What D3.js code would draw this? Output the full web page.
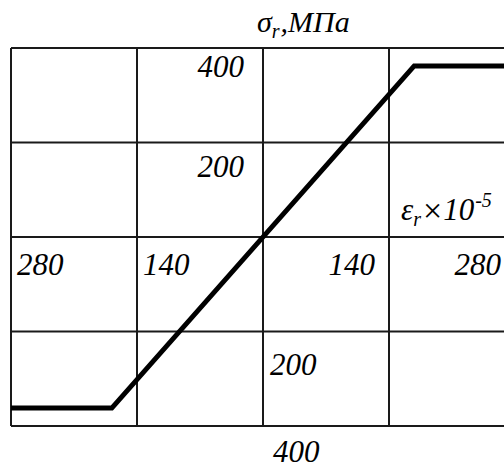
<!DOCTYPE html>
<html><head><meta charset="utf-8">
<script src="https://cdn.jsdelivr.net/npm/d3@7"></script>
<style>
html,body{margin:0;padding:0;background:#fff;}
svg{display:block;}
</style></head>
<body>
<script>
// Data: elastic–perfectly-plastic stress–strain diagram
const strain = [-280, -168, 168, 280];       // ε_r ×10^-5
const stress = [-362, -362, 362, 362];       // σ_r, MPa
const xGrid = [-280, -140, 0, 140, 280];
const yGrid = [-400, -200, 0, 200, 400];
const xTickValues = [-280, -140, 140, 280];
const xTickLabels = ["280", "140", "140", "280"];
const yTickValues = [400, 200, -200, -400];
const yTickLabels = ["400", "200", "200", "400"];

const W = 504, H = 468;
const FONT = "'Liberation Serif', 'Times New Roman', 'DejaVu Serif', serif";
const svg = d3.select("body").append("svg").attr("width", W).attr("height", H)
  .attr("font-family", FONT).attr("font-style", "italic");

const x = d3.scaleLinear().domain([-280, 280]).range([11, 515]);
const y = d3.scaleLinear().domain([-400, 400]).range([426, 48]);

const g = svg.append("g");
// grid
g.selectAll("line.v").data(xGrid).join("line")
  .attr("x1", d => x(d)).attr("x2", d => x(d))
  .attr("y1", y(400)).attr("y2", y(-400))
  .attr("stroke", "#1a1a1a").attr("stroke-width", 2);
g.selectAll("line.h").data(yGrid).join("line")
  .attr("x1", x(-280)).attr("x2", x(280))
  .attr("y1", d => y(d)).attr("y2", d => y(d))
  .attr("stroke", "#1a1a1a").attr("stroke-width", 2);

// curve
const pts = strain.map((s, i) => [s, stress[i]]);
svg.append("path").datum(pts)
  .attr("d", d3.line().x(d => x(d[0])).y(d => y(d[1])))
  .attr("fill", "none").attr("stroke", "#000").attr("stroke-width", 5)
  .attr("stroke-linejoin", "miter");

const fs = 31;
function txt(){ return svg.append("text").attr("font-family", FONT).attr("font-style", "italic").attr("fill", "#000"); }
// x tick labels
xTickValues.forEach((v, i) => {
  const left = v < 0;
  txt()
    .attr("x", left ? x(v) + 6 : x(v) - 14)
    .attr("y", y(0) + 38)
    .attr("text-anchor", left ? "start" : "end")
    .attr("font-size", fs)
    .text(xTickLabels[i]);
});
// y tick labels
const yOff = {"400": 29, "200": 34, "-200": 43.5, "-400": 36};
yTickValues.forEach((v, i) => {
  const top = v > 0;
  txt()
    .attr("x", top ? x(0) - 19 : x(0) + 7 + (v === -400 ? 3 : 0))
    .attr("y", y(v) + yOff[String(v)])
    .attr("text-anchor", top ? "end" : "start")
    .attr("font-size", fs)
    .text(yTickLabels[i]);
});

// axis titles
const t1 = txt().attr("x", 257).attr("y", 32).attr("font-size", 30);
t1.append("tspan").text("σ");
t1.append("tspan").attr("font-size", 20).attr("dy", 6).text("r");
t1.append("tspan").attr("dy", -6).attr("dx", 1).text(",МПа");

const t2 = txt().attr("x", 401).attr("y", 220).attr("font-size", 31);
t2.append("tspan").text("ε");
t2.append("tspan").attr("font-size", 20).attr("dy", 6).text("r");
t2.append("tspan").attr("dy", -4).attr("dx", 2).attr("font-size", 34).attr("font-style", "normal").text("×");
t2.append("tspan").attr("dy", -2).attr("dx", 1).text("10");
t2.append("tspan").attr("font-size", 20).attr("dy", -13).attr("dx", 1).text("-5");
</script>
</body></html>
